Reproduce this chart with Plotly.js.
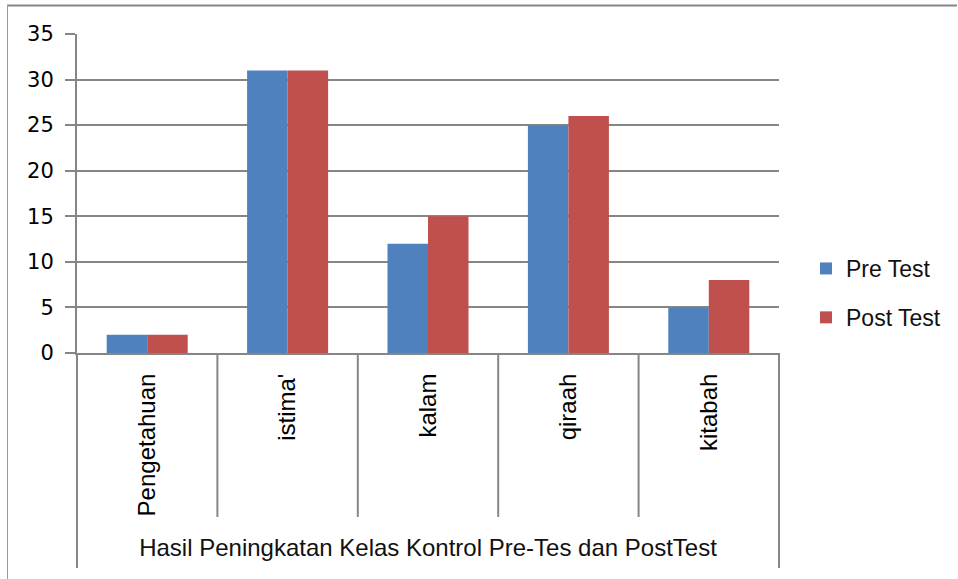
<!DOCTYPE html>
<html>
<head>
<meta charset="utf-8">
<script src="https://cdn.plot.ly/plotly-3.0.1.min.js"></script>
<style>html,body{margin:0;padding:0;background:#fff;}#chart{width:958px;height:579px;}</style>
</head>
<body>
<div id="chart"></div>
<script>
var categories = ["Pengetahuan", "istima'", "kalam", "qiraah", "kitabah"];
var preTest = [2, 31, 12, 25, 5];
var postTest = [2, 31, 15, 26, 8];
var seriesNames = ["Pre Test", "Post Test"];
var xTitle = "Hasil Peningkatan Kelas Kontrol Pre-Tes dan PostTest";

var gridColor = "#868686";
var W = 958, H = 579;
var L = 77, R = 179, T = 34, B = 226;
var plotW = W - L - R, plotH = H - T - B;
function px2x(px){ return (px - L) / plotW; }
function py2y(py){ return (H - B - py) / plotH; }

var traces = [
  {type: "bar", name: seriesNames[0], x: categories, y: preTest, marker: {color: "#4F81BD"}, legendgroup: "a"},
  {type: "bar", name: seriesNames[1], x: categories, y: postTest, marker: {color: "#C0504D"}, legendgroup: "b"}
];

var shapes = [];
// category separators
for (var i = 0; i < categories.length - 1; i++) {
  shapes.push({type: "line", xref: "x", yref: "paper", x0: i + 0.5, x1: i + 0.5, y0: 0, y1: py2y(517), line: {color: gridColor, width: 2}});
}
// outer left/right extended axis lines
shapes.push({type: "line", xref: "paper", yref: "paper", x0: 0, x1: 0, y0: 0, y1: py2y(568), line: {color: gridColor, width: 2}});
shapes.push({type: "line", xref: "paper", yref: "paper", x0: 1, x1: 1, y0: 0, y1: py2y(568), line: {color: gridColor, width: 2}});
// chart border
shapes.push({type: "line", xref: "paper", yref: "paper", x0: px2x(7), x1: px2x(957), y0: py2y(5.5), y1: py2y(5.5), line: {color: gridColor, width: 2}});
shapes.push({type: "line", xref: "paper", yref: "paper", x0: px2x(7.5), x1: px2x(7.5), y0: py2y(5), y1: py2y(579), line: {color: "#9a9a9a", width: 1}});

var layout = {
  width: W, height: H,
  margin: {l: L, r: R, t: T, b: B, pad: 0},
  paper_bgcolor: "#fff", plot_bgcolor: "#fff",
  barmode: "group", bargap: 0.423, bargroupgap: 0,
  font: {family: "Liberation Sans, Arial, sans-serif", color: "#000"},
  showlegend: true,
  legend: {x: px2x(806), xanchor: "left", y: py2y(293), yanchor: "middle",
           font: {size: 23, family: "Liberation Sans, Arial, sans-serif", color: "#111"},
           traceorder: "grouped", tracegroupgap: 16, bgcolor: "rgba(0,0,0,0)"},
  xaxis: {
    type: "category", automargin: false,
    showline: true, linecolor: gridColor, linewidth: 2,
    showgrid: false, zeroline: false,
    ticks: "", tickangle: -90, ticklabelstandoff: 9,
    tickfont: {size: 24, family: "Liberation Sans, Arial, sans-serif", color: "#000"},
    title: {text: xTitle, standoff: 24, font: {size: 24, family: "Liberation Sans, Arial, sans-serif", color: "#111"}}
  },
  yaxis: {
    range: [0, 35], dtick: 5, automargin: false,
    showline: true, linecolor: gridColor, linewidth: 2,
    showgrid: true, gridcolor: gridColor, gridwidth: 2,
    zeroline: false,
    ticks: "outside", ticklen: 10, tickwidth: 2, tickcolor: gridColor,
    ticklabelstandoff: 7,
    tickfont: {size: 21, family: "DejaVu Sans, sans-serif", color: "#000"}
  },
  shapes: shapes
};

Plotly.newPlot("chart", traces, layout, {displayModeBar: false, staticPlot: true});
</script>
</body>
</html>
